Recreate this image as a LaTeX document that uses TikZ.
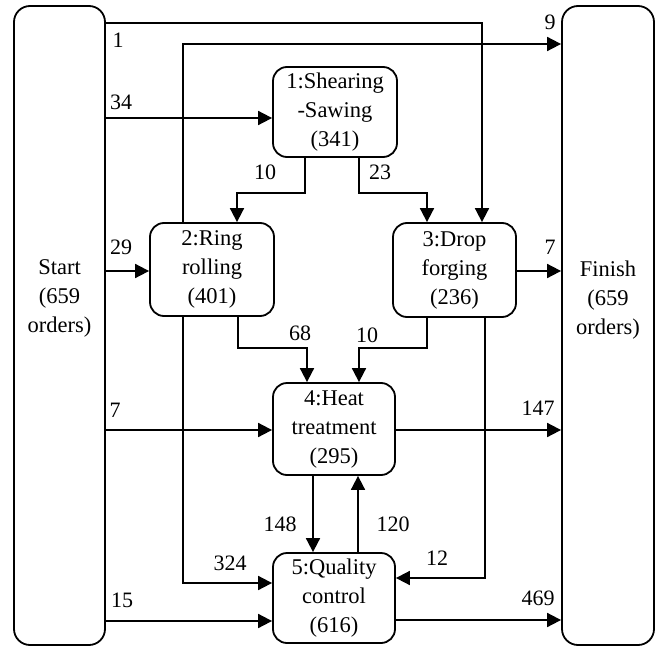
\documentclass[tikz,border=0pt]{standalone}
\usepackage{fontspec}
\setmainfont{Liberation Serif}
\usetikzlibrary{arrows.meta}
\begin{document}
\begin{tikzpicture}[x=1pt,y=-1pt,
  every node/.style={font=\fontsize{22.5}{29}\selectfont},
  proc/.style={draw,line width=1.8pt,rounded corners=14pt,align=center,inner sep=0pt},
  term/.style={draw,line width=1.8pt,rounded corners=16pt,inner sep=0pt,minimum width=91pt,minimum height=639pt},
  ttext/.style={align=center,inner sep=0pt},
  arr/.style={line width=1.8pt,-{Triangle[length=14pt,width=14pt]}},
  lab/.style={inner sep=0pt,font=\fontsize{22}{26}\selectfont}]
\useasboundingbox (0,0) rectangle (661,650);
\node[term] (start) at (59.5,325.5) {};
\node[ttext] (starttext) at ([yshift=27pt]start.center) {Start\\(659\\orders)};
\node[term,minimum width=92pt] (fin) at (608,325.5) {};
\node[ttext] (fintext) at ([yshift=25pt]fin.center) {Finish\\(659\\orders)};
\node[proc,minimum width=124pt,minimum height=90pt] (b1) at (335,112) {1:Shearing\\-Sawing\\(341)};
\node[proc,minimum width=124pt,minimum height=93pt] (b2) at (212,269.5) {2:Ring\\rolling\\(401)};
\node[proc,minimum width=123pt,minimum height=94pt] (b3) at (454.5,270) {3:Drop\\forging\\(236)};
\node[proc,minimum width=122pt,minimum height=92pt] (b4) at (334,429) {4:Heat\\treatment\\(295)};
\node[proc,minimum width=122pt,minimum height=90pt] (b5) at (334,598) {5:Quality\\control\\(616)};

\draw[arr] (start.east |- 0,23) -| (b3.north -| 482,0);
\draw[arr] (b2.north -| 183,0) |- (fin.west |- 0,44);
\draw[arr] (start.east |- 0,118) -- (b1.west |- 0,118);
\draw[arr] (b1.south -| 305,0) -- (305,193) -| (b2.north -| 237,0);
\draw[arr] (b1.south -| 359,0) -- (359,193) -| (b3.north -| 427,0);
\draw[arr] (start.east |- 0,271) -- (b2.west |- 0,271);
\draw[arr] (b3.east |- 0,271) -- (fin.west |- 0,271);
\draw[arr] (b2.south -| 238,0) -- (238,348) -| (b4.north -| 307,0);
\draw[arr] (b3.south -| 427,0) -- (427,348) -| (b4.north -| 359,0);
\draw[arr] (start.east |- 0,430) -- (b4.west |- 0,430);
\draw[arr] (b4.east |- 0,430) -- (fin.west |- 0,430);
\draw[arr] (b2.south -| 183,0) |- (b5.west |- 0,583);
\draw[arr] (start.east |- 0,621) -- (b5.west |- 0,621);
\draw[arr] (b4.south -| 313,0) -- (b5.north -| 313,0);
\draw[arr] (b5.north -| 358,0) -- (b4.south -| 358,0);
\draw[arr] (b3.south -| 485,0) |- (b5.east |- 0,578);
\draw[arr] (b5.east |- 0,620) -- (fin.west |- 0,620);

\node[lab] (l1) at (118,40) {1};
\node[lab] (l34) at (121,102) {34};
\node[lab] (l10a) at (265,172) {10};
\node[lab] (l23) at (380,172) {23};
\node[lab] (l9) at (550,22) {9};
\node[lab] (l29) at (121,247) {29};
\node[lab] (l7a) at (550,247) {7};
\node[lab] (l68) at (300,333) {68};
\node[lab] (l10b) at (367,335) {10};
\node[lab] (l7b) at (115,410) {7};
\node[lab] (l147) at (538,408) {147};
\node[lab] (l148) at (280,524) {148};
\node[lab] (l120) at (393,524) {120};
\node[lab] (l324) at (230,563) {324};
\node[lab] (l12) at (437,558) {12};
\node[lab] (l15) at (122,600) {15};
\node[lab] (l469) at (538,598) {469};
\end{tikzpicture}
\end{document}
